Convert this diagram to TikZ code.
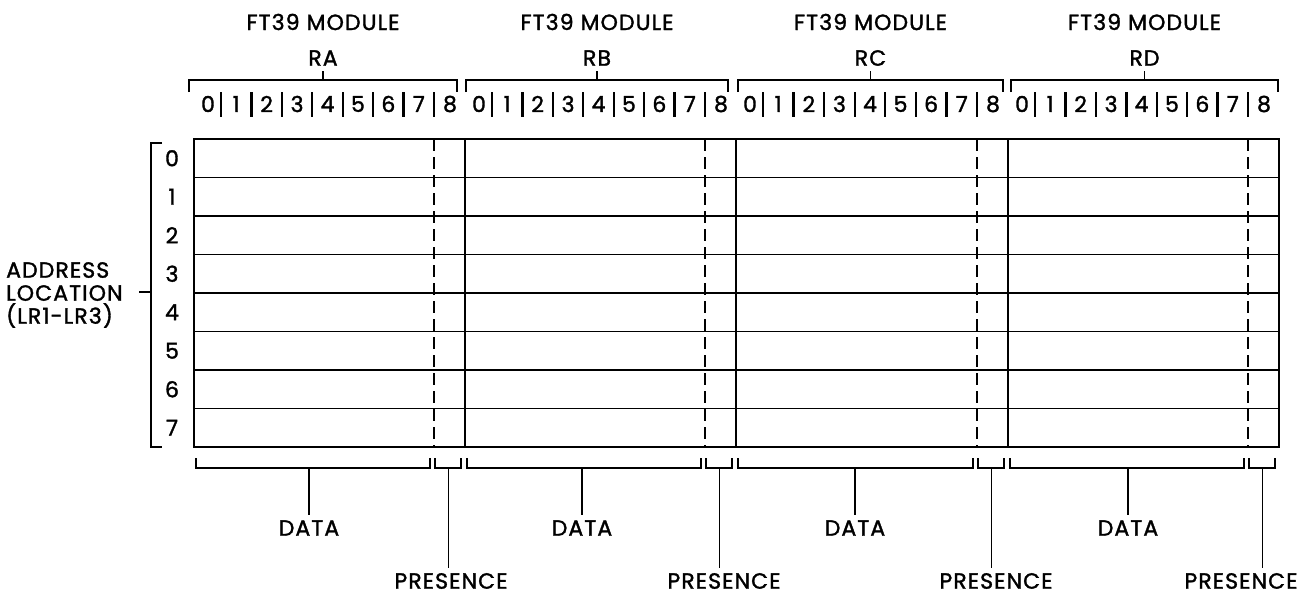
\documentclass[tikz,border=0pt]{standalone}
\usepackage{fontspec}
\setmainfont{Poppins}[FakeBold=1.5, LetterSpace=5]
\begin{document}
\begin{tikzpicture}[x=1pt,y=-1pt,
  txt/.style={font=\fontsize{22}{23}\selectfont, inner sep=0pt},
  frame/.style={line width=2.6pt},
  rowline/.style={line width=1.9pt},
  brk/.style={line width=1.9pt},
  sepline/.style={line width=2.4pt},
  dsh/.style={line width=2pt, dash pattern=on 12pt off 6pt},
  stem/.style={line width=1.9pt}]
\useasboundingbox (0,0) rectangle (1306,594);
% row lines
\foreach \j in {1,...,7}{
  \draw[rowline] (194,{139+38.5*\j}) -- (1279,{139+38.5*\j});
}
% row labels
\foreach \j in {0,...,7}{
  \node[txt] (row\j) at (172,{158.25+38.5*\j}) {\j};
}
% modules
\foreach \m/\n/\L/\R/\bl/\br/\dx/\px in {1/RA/194/465/189/457/309/451, 2/RB/465/736/466/728/582/724, 3/RC/736/1008/738/1003/855/996, 4/RD/1008/1279/1011/1278/1128/1241}{
  \pgfmathsetmacro\D{\R-31}
  \pgfmathsetmacro\cx{(\bl+\br)/2}
  \node[txt] (ft\m) at (\cx,22) {FT39 MODULE};
  \node[txt] (r\m) at (\cx,58) {\n};
  \draw[brk] (\bl,92) -- (\bl,80) -- (\br,80) -- (\br,92);
  \draw[brk] (\cx,80) -- ++(0,-9);
  % bit labels
  \pgfmathsetmacro\sA{\L+27}
  \pgfmathsetmacro\sS{(\D-\L-27)/7}
  \foreach \k in {1,...,8}{
    \draw[sepline] ({\sA+\sS*(\k-1)},92) -- ({\sA+\sS*(\k-1)},117);
  }
  \node[txt] (b\m-0) at (\L+14,104) {0};
  \foreach \k in {1,...,7}{
    \node[txt] (b\m-\k) at ({\sA+\sS*(\k-0.5)},104) {\k};
  }
  \node[txt] (b\m-8) at (\R-15,104) {8};
  % grid divider and presence column
  \draw[frame] (\L,139) -- (\L,447);
  \draw[dsh] (\D,139) -- (\D,447);
  % bottom brackets
  \draw[brk] (\L+2,458) -- (\L+2,468) -- (\D-4,468) -- (\D-4,458);
  \draw[brk] (\D+1,458) -- (\D+1,468) -- (\R-4,468) -- (\R-4,458);
  \pgfmathsetmacro\ps{(\D+\R)/2-1}
  \coordinate (db\m) at (\dx,468);
  \coordinate (pb\m) at (\ps,468);
  \node[txt] (data\m) at (\dx,528) {DATA};
  \node[txt] (pres\m) at (\px,581) {PRESENCE};
  \draw[stem, shorten >=5pt] (db\m) -- (db\m |- data\m.north);
  \draw[stem, shorten >=5pt] (pb\m) -- (pb\m |- pres\m.north);
}
\draw[frame] (194,139) rectangle (1279,447);
% address bracket
\node[txt, anchor=west, align=left] (addr) at (6,295) {ADDRESS\\LOCATION\\(LR1-LR3)};
\draw[brk] (162,143) -- (151,143) -- (151,447) -- (162,447);
\coordinate (lb) at (151,292);
\draw[brk] (lb) -- ++(-12,0);
\end{tikzpicture}
\end{document}
